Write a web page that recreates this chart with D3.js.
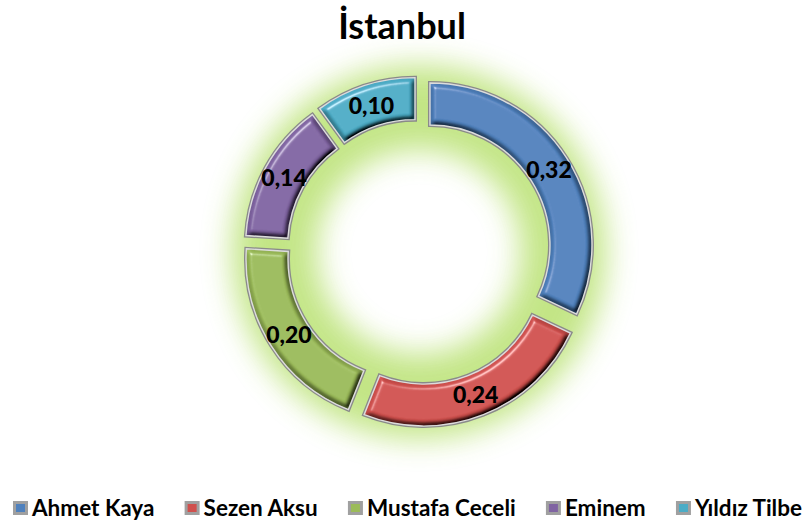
<!DOCTYPE html>
<html lang="tr">
<head>
  <meta charset="UTF-8">
  <title>İstanbul</title>
  <script src="https://cdn.jsdelivr.net/npm/d3@7"></script>
  <style>
    body { margin: 0; background: #fff; }
    svg text { font-family: Lato, "Open Sans", sans-serif; font-weight: bold; }
  </style>
</head>
<body>
  <svg id="chart"></svg>
  <script>
    // data
    const names = ['Ahmet Kaya', 'Sezen Aksu', 'Mustafa Ceceli', 'Eminem', 'Yıldız Tilbe'];
    const values = [0.32, 0.24, 0.20, 0.14, 0.10];
    const labels = ['0,32', '0,24', '0,20', '0,14', '0,10'];
    const colors = ['#4f81bd', '#d0504d', '#9bbb59', '#8064a2', '#4bacc6'];
    const title = 'İstanbul';

    const width = 805, height = 523;
    const cx = 419, cy = 252;
    const outerR = 162, innerR = 120, explode = 13;

    const svg = d3.select('#chart')
      .attr('width', width)
      .attr('height', height);

    const defs = svg.append('defs');
    let glow = defs.append('filter').attr('id', 'glow')
      .attr('x', '-30%').attr('y', '-30%').attr('width', '160%').attr('height', '160%');
    glow.append('feGaussianBlur').attr('stdDeviation', 15);

    // bevel: blurred alpha used as a height map, lit from the top left
    let bevel = defs.append('filter').attr('id', 'bevel')
      .attr('x', '-10%').attr('y', '-10%').attr('width', '120%').attr('height', '120%');
    bevel.append('feMorphology').attr('in', 'SourceAlpha').attr('operator', 'erode').attr('radius', 1).attr('result', 'er');
    bevel.append('feGaussianBlur').attr('in', 'er').attr('stdDeviation', 2.2).attr('result', 'blur');
    let diff = bevel.append('feDiffuseLighting').attr('in', 'blur')
      .attr('surfaceScale', 5).attr('diffuseConstant', 1.15)
      .attr('lighting-color', '#ffffff').attr('result', 'diff');
    diff.append('feDistantLight').attr('azimuth', 235).attr('elevation', 60);
    let spec = bevel.append('feSpecularLighting').attr('in', 'blur')
      .attr('surfaceScale', 5).attr('specularConstant', 0.9).attr('specularExponent', 25)
      .attr('lighting-color', '#ffffff').attr('result', 'spec');
    spec.append('feDistantLight').attr('azimuth', 235).attr('elevation', 35);
    bevel.append('feComposite').attr('in', 'SourceGraphic').attr('in2', 'diff')
      .attr('operator', 'arithmetic').attr('k1', 1).attr('k2', 0).attr('k3', 0).attr('k4', 0).attr('result', 'lit');
    bevel.append('feComposite').attr('in', 'spec').attr('in2', 'SourceAlpha').attr('operator', 'in').attr('result', 'specIn');
    bevel.append('feComposite').attr('in', 'lit').attr('in2', 'specIn')
      .attr('operator', 'arithmetic').attr('k1', 0).attr('k2', 1).attr('k3', 0.55).attr('k4', 0).attr('result', 'shaded');
    bevel.append('feComposite').attr('in', 'shaded').attr('in2', 'SourceAlpha').attr('operator', 'in');

    // title
    svg.append('text')
      .attr('x', 402)
      .attr('y', 39)
      .attr('text-anchor', 'middle')
      .style('font-size', '36px')
      .attr('fill', '#000')
      .text(title);

    const pie = d3.pie().sort(null).value(d => d)(values);
    const arc = d3.arc().innerRadius(innerR).outerRadius(outerR);
    const offset = d => {
      let a = (d.startAngle + d.endAngle) / 2;
      return [Math.sin(a) * explode, -Math.cos(a) * explode];
    };

    const g = svg.append('g').attr('transform', `translate(${cx},${cy})`);

    // green glow round the ring
    g.append('path')
      .attr('d', d3.arc().innerRadius(innerR - 18).outerRadius(outerR + explode + 12).startAngle(0).endAngle(2 * Math.PI)())
      .attr('fill', '#bde37a')
      .attr('opacity', 0.9)
      .attr('filter', 'url(#glow)');

    const seg = g.selectAll('.seg')
      .data(pie)
      .enter()
      .append('g')
      .attr('class', 'seg')
      .attr('transform', d => `translate(${offset(d)})`);

    seg.append('path')
      .attr('d', arc)
      .attr('fill', 'none')
      .attr('stroke', '#8a8a8a')
      .attr('stroke-width', 4);
    seg.append('path')
      .attr('d', arc)
      .attr('fill', (d, i) => colors[i])
      .attr('filter', 'url(#bevel)');
    seg.append('path')
      .attr('d', arc)
      .attr('fill', 'none')
      .attr('stroke', '#dcdcdc')
      .attr('stroke-width', 1.4);

    const labelArc = d3.arc().innerRadius(innerR).outerRadius(outerR);
    seg.append('text')
      .attr('transform', d => `translate(${labelArc.centroid(d)})`)
      .attr('text-anchor', 'middle')
      .attr('dy', '0.36em')
      .style('font-size', '23px')
      .style('font-weight', 900)
      .attr('fill', '#000')
      .text((d, i) => labels[i]);

    // legend, spread between left and right edge
    const legend = svg.append('g').attr('transform', 'translate(0,509)');
    const legLeft = 13, legRight = 802;
    let items = names.map((n, i) => {
      let item = legend.append('g');
      item.append('rect')
        .attr('x', 0).attr('y', -8).attr('width', 15).attr('height', 14)
        .attr('fill', '#a0a0a0');
      item.append('rect')
        .attr('x', 3).attr('y', -5).attr('width', 9).attr('height', 8)
        .attr('fill', colors[i]);
      let t = item.append('text')
        .attr('x', 19).attr('y', 7)
        .style('font-size', '22.5px')
        .attr('fill', '#000')
        .text(n);
      return { item, w: 19 + t.node().getComputedTextLength() };
    });
    let total = d3.sum(items, d => d.w);
    let gap = (legRight - legLeft - total) / (items.length - 1);
    let lx = legLeft;
    items.forEach(d => {
      d.item.attr('transform', `translate(${lx},0)`);
      lx += d.w + gap;
    });
  </script>
</body>
</html>
